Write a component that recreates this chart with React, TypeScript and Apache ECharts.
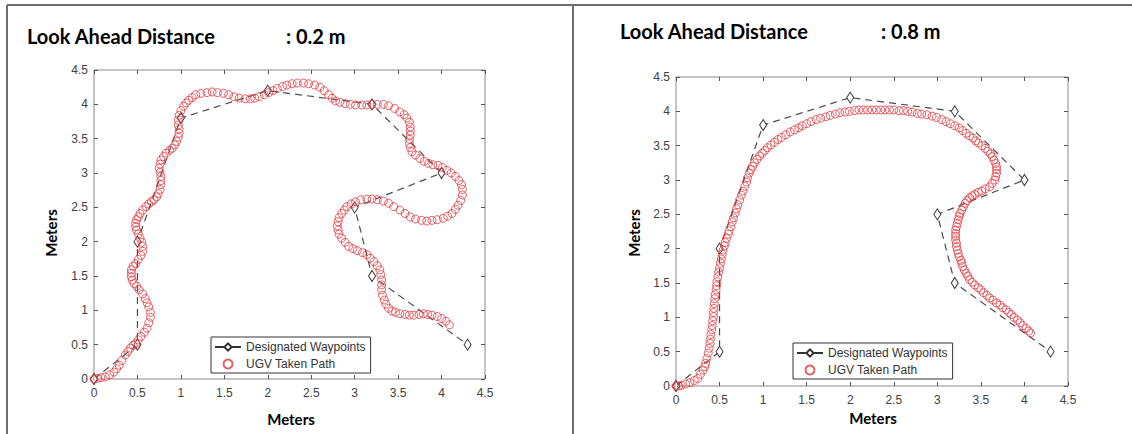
import React, { useEffect, useRef } from "react";
import * as echarts from "echarts";

const WAYPOINTS: [number, number][] = [
  [0, 0], [0.5, 0.5], [0.5, 2], [1, 3.8], [2, 4.2], [3.2, 4], [4, 3], [3, 2.5], [3.2, 1.5], [4.3, 0.5],
];

const PATH_02: [number, number][] = [
  [0,0],[0.04,0.01],[0.08,0.02],[0.13,0.03],[0.18,0.06],[0.23,0.1],[0.26,0.15],[0.29,0.2],[0.32,0.27],[0.36,0.35],
  [0.39,0.4],[0.42,0.45],[0.45,0.49],[0.48,0.52],[0.51,0.57],[0.54,0.62],[0.58,0.68],[0.61,0.74],[0.63,0.82],[0.65,0.9],
  [0.65,0.97],[0.63,1.05],[0.61,1.11],[0.59,1.17],[0.56,1.24],[0.52,1.3],[0.49,1.35],[0.46,1.39],[0.44,1.44],[0.43,1.49],
  [0.43,1.54],[0.43,1.59],[0.45,1.64],[0.48,1.68],[0.51,1.74],[0.54,1.8],[0.56,1.86],[0.56,1.93],[0.55,1.99],[0.53,2.05],
  [0.51,2.11],[0.49,2.17],[0.48,2.22],[0.48,2.27],[0.49,2.32],[0.51,2.36],[0.53,2.41],[0.56,2.46],[0.6,2.51],[0.63,2.55],
  [0.66,2.58],[0.69,2.61],[0.72,2.65],[0.74,2.7],[0.76,2.76],[0.77,2.83],[0.77,2.89],[0.77,2.95],[0.76,3.01],[0.75,3.07],
  [0.76,3.13],[0.77,3.19],[0.8,3.24],[0.83,3.29],[0.87,3.33],[0.9,3.36],[0.93,3.41],[0.95,3.46],[0.97,3.52],[0.98,3.58],
  [0.98,3.64],[0.97,3.7],[0.97,3.77],[0.98,3.84],[1.0,3.91],[1.03,3.97],[1.06,4.02],[1.09,4.06],[1.13,4.1],[1.17,4.14],
  [1.23,4.16],[1.3,4.17],[1.36,4.18],[1.42,4.17],[1.49,4.16],[1.55,4.14],[1.61,4.11],[1.67,4.09],[1.74,4.08],[1.8,4.08],
  [1.85,4.09],[1.9,4.11],[1.96,4.14],[2.01,4.17],[2.06,4.2],[2.11,4.23],[2.17,4.26],[2.22,4.28],[2.28,4.3],[2.34,4.31],
  [2.41,4.31],[2.47,4.3],[2.54,4.28],[2.6,4.25],[2.65,4.2],[2.7,4.14],[2.74,4.09],[2.78,4.05],[2.83,4.03],[2.89,4.01],
  [2.95,4.0],[3.01,3.99],[3.08,3.99],[3.14,3.99],[3.2,4.0],[3.26,4.0],[3.33,4.0],[3.39,3.98],[3.46,3.94],[3.52,3.89],
  [3.57,3.85],[3.6,3.8],[3.63,3.74],[3.64,3.67],[3.64,3.61],[3.64,3.55],[3.63,3.49],[3.63,3.43],[3.64,3.37],[3.66,3.31],
  [3.7,3.26],[3.75,3.21],[3.8,3.17],[3.85,3.14],[3.9,3.12],[3.96,3.11],[4.01,3.08],[4.06,3.04],[4.11,3.0],[4.16,2.95],
  [4.2,2.89],[4.23,2.83],[4.24,2.76],[4.24,2.68],[4.22,2.6],[4.19,2.53],[4.16,2.47],[4.12,2.41],[4.07,2.37],[4.02,2.34],
  [3.95,2.32],[3.89,2.31],[3.83,2.3],[3.77,2.31],[3.7,2.33],[3.64,2.36],[3.58,2.41],[3.52,2.46],[3.45,2.51],[3.39,2.56],
  [3.33,2.59],[3.26,2.61],[3.2,2.62],[3.14,2.62],[3.07,2.61],[3.01,2.58],[2.96,2.55],[2.91,2.51],[2.88,2.46],[2.85,2.41],
  [2.82,2.35],[2.81,2.29],[2.8,2.23],[2.81,2.17],[2.82,2.11],[2.85,2.05],[2.89,1.99],[2.93,1.93],[2.98,1.9],[3.03,1.87],
  [3.09,1.84],[3.14,1.81],[3.18,1.76],[3.22,1.71],[3.26,1.65],[3.29,1.59],[3.3,1.52],[3.31,1.44],[3.31,1.37],[3.31,1.3],
  [3.32,1.22],[3.34,1.15],[3.36,1.09],[3.39,1.03],[3.43,0.99],[3.47,0.97],[3.52,0.95],[3.58,0.94],[3.63,0.93],[3.68,0.93],
  [3.74,0.94],[3.79,0.95],[3.84,0.94],[3.89,0.93],[3.95,0.91],[4.0,0.88],[4.05,0.84],[4.09,0.79],
];

const PATH_08: [number, number][] = [
  [0,0],[0.03,0.0],[0.06,0.01],[0.11,0.03],[0.16,0.05],[0.21,0.08],[0.25,0.11],[0.28,0.17],[0.31,0.23],[0.33,0.28],
  [0.34,0.33],[0.355,0.4],[0.37,0.48],[0.38,0.55],[0.39,0.62],[0.395,0.68],[0.4,0.75],[0.41,0.82],[0.415,0.88],[0.42,0.95],
  [0.43,1.01],[0.43,1.07],[0.435,1.13],[0.44,1.2],[0.445,1.27],[0.45,1.33],[0.46,1.4],[0.465,1.46],[0.47,1.52],[0.48,1.59],
  [0.49,1.66],[0.5,1.72],[0.51,1.79],[0.52,1.85],[0.53,1.92],[0.54,1.98],[0.555,2.04],[0.565,2.09],[0.58,2.15],[0.6,2.21],
  [0.61,2.26],[0.63,2.32],[0.645,2.39],[0.66,2.45],[0.68,2.52],[0.695,2.58],[0.71,2.64],[0.73,2.71],[0.75,2.78],[0.77,2.84],
  [0.79,2.91],[0.81,2.97],[0.82,3.03],[0.84,3.1],[0.86,3.15],[0.88,3.2],[0.9,3.25],[0.93,3.3],[0.96,3.35],[0.99,3.39],
  [1.02,3.43],[1.05,3.47],[1.09,3.51],[1.13,3.55],[1.17,3.59],[1.21,3.62],[1.26,3.66],[1.31,3.7],[1.36,3.73],[1.41,3.76],
  [1.45,3.79],[1.5,3.82],[1.55,3.85],[1.61,3.88],[1.66,3.9],[1.72,3.92],[1.77,3.94],[1.83,3.96],[1.88,3.98],[1.94,3.99],
  [1.99,4.0],[2.05,4.01],[2.1,4.02],[2.15,4.02],[2.2,4.02],[2.25,4.02],[2.3,4.02],[2.35,4.02],[2.4,4.02],[2.45,4.02],
  [2.5,4.02],[2.56,4.01],[2.61,4.01],[2.66,4.0],[2.71,3.99],[2.77,3.97],[2.82,3.96],[2.88,3.95],[2.94,3.93],[2.99,3.91],
  [3.05,3.88],[3.1,3.85],[3.15,3.82],[3.2,3.79],[3.25,3.76],[3.29,3.72],[3.33,3.68],[3.37,3.64],[3.41,3.61],[3.44,3.57],
  [3.47,3.54],[3.51,3.5],[3.55,3.46],[3.58,3.42],[3.61,3.38],[3.63,3.34],[3.65,3.29],[3.67,3.24],[3.68,3.19],[3.68,3.15],
  [3.68,3.1],[3.67,3.05],[3.66,3.0],[3.63,2.95],[3.6,2.9],[3.55,2.87],[3.51,2.84],[3.47,2.82],[3.43,2.79],[3.4,2.77],
  [3.37,2.74],[3.34,2.7],[3.32,2.66],[3.3,2.61],[3.28,2.56],[3.26,2.51],[3.25,2.47],[3.24,2.42],[3.23,2.37],[3.22,2.32],
  [3.21,2.27],[3.21,2.22],[3.21,2.18],[3.21,2.13],[3.22,2.08],[3.22,2.03],[3.23,1.98],[3.24,1.93],[3.25,1.88],[3.27,1.83],
  [3.28,1.79],[3.29,1.74],[3.31,1.69],[3.33,1.64],[3.35,1.6],[3.37,1.55],[3.4,1.51],[3.43,1.47],[3.47,1.43],[3.5,1.4],
  [3.53,1.36],[3.57,1.32],[3.6,1.28],[3.64,1.25],[3.68,1.21],[3.72,1.18],[3.75,1.14],[3.79,1.11],[3.82,1.07],[3.85,1.04],
  [3.88,1.0],[3.92,0.96],[3.95,0.92],[3.98,0.88],[4.02,0.84],[4.05,0.8],[4.07,0.77],
];

const AXIS_MIN = 0;
const AXIS_MAX = 4.5;
const AXIS_STEP = 0.5;
const TITLE_LABEL = "Look Ahead Distance";
const DISTANCES = [": 0.2 m", ": 0.8 m"];
const AXIS_NAME = "Meters";
const SERIES_NAMES = ["Designated Waypoints", "UGV Taken Path"];

const PATH_RED = "#e2363c";
const AXIS_GRAY = "#8a8a8a";
const TICK_FONT = "Liberation Sans";
const TITLE_FONT = "Lato";

export default function App() {
  const ref = useRef<HTMLDivElement>(null);

  useEffect(() => {
    document.body.style.margin = "0";
    if (!ref.current) return;
    const chart = echarts.init(ref.current, undefined, { renderer: "svg" });

    const grids = [
      { left: 94, top: 70, width: 391, height: 309 },
      { left: 676, top: 77, width: 392, height: 309 },
    ];

    const baseAxis = {
      type: "value" as const,
      min: AXIS_MIN,
      max: AXIS_MAX,
      interval: AXIS_STEP,
      splitLine: { show: false },
      axisLine: { show: false, onZero: false },
      axisTick: { show: true, inside: true, length: 4, lineStyle: { color: "#555", width: 1 } },
    };

    const xAxis: any[] = [];
    const yAxis: any[] = [];
    grids.forEach((_, gi) => {
      xAxis.push({
        ...baseAxis,
        gridIndex: gi,
        position: "bottom",
        axisLabel: { show: true, color: "#404040", fontSize: 12, fontFamily: TICK_FONT, margin: 8 },
      });
      xAxis.push({ ...baseAxis, gridIndex: gi, position: "top", axisLabel: { show: false } });
      yAxis.push({
        ...baseAxis,
        gridIndex: gi,
        position: "left",
        axisLabel: { show: true, color: "#404040", fontSize: 12, fontFamily: TICK_FONT, margin: 6 },
      });
      yAxis.push({ ...baseAxis, gridIndex: gi, position: "right", axisLabel: { show: false } });
    });

    const paths = [PATH_02, PATH_08];
    const series: any[] = [];
    paths.forEach((p, gi) => {
      series.push({
        name: SERIES_NAMES[0],
        type: "line",
        xAxisIndex: gi * 2,
        yAxisIndex: gi * 2,
        data: WAYPOINTS,
        symbol: "diamond",
        symbolSize: [7, 11],
        showSymbol: true,
        lineStyle: { color: "#4a4a4a", width: 1.2, type: [7, 5] },
        itemStyle: { color: "#ffffff", borderColor: "#333", borderWidth: 1 },
        z: 2,
      });
      series.push({
        name: SERIES_NAMES[1],
        type: "scatter",
        xAxisIndex: gi * 2,
        yAxisIndex: gi * 2,
        data: p,
        symbol: "circle",
        symbolSize: 8,
        itemStyle: { color: "rgba(0,0,0,0)", borderColor: PATH_RED, borderWidth: 1 },
        z: 3,
      });
    });

    const legendBase = {
      orient: "vertical" as const,
      data: SERIES_NAMES,
      selectedMode: false,
      backgroundColor: "#fff",
      borderColor: "#333",
      borderWidth: 1,
      padding: [4, 5, 3, 3],
      itemGap: 5,
      itemWidth: 26,
      itemHeight: 9,
      lineStyle: { type: "solid", color: "#333" },
      textStyle: { fontSize: 12, color: "#333", fontFamily: TICK_FONT },
    };

    const titleTexts = (x1: number, x2: number, y: number, dist: string) => [
      {
        type: "text",
        x: x1,
        y,
        style: { text: TITLE_LABEL, font: `bold 20px ${TITLE_FONT}`, fill: "#000", verticalAlign: "middle", align: "left" },
      },
      {
        type: "text",
        x: x2,
        y,
        style: { text: dist, font: `bold 20px ${TITLE_FONT}`, fill: "#000", verticalAlign: "middle", align: "left" },
      },
    ];

    const axisNames = (cx: number, cy: number, yx: number, yy: number) => [
      {
        type: "text",
        x: cx,
        y: cy,
        style: { text: AXIS_NAME, font: `bold 15px ${TITLE_FONT}`, fill: "#000", align: "center", verticalAlign: "middle" },
      },
      {
        type: "text",
        x: yx,
        y: yy,
        rotation: Math.PI / 2,
        style: { text: AXIS_NAME, font: `bold 15px ${TITLE_FONT}`, fill: "#000", align: "center", verticalAlign: "middle" },
      },
    ];

    const option: any = {
      animation: false,
      backgroundColor: "#fff",
      grid: grids.map((g) => ({ ...g, show: true, borderColor: AXIS_GRAY, borderWidth: 1, backgroundColor: "#fff" })),
      xAxis,
      yAxis,
      legend: [
        { ...legendBase, left: 211, top: 337 },
        { ...legendBase, left: 793, top: 343 },
      ],
      graphic: [
        { type: "line", shape: { x1: 7, y1: 5, x2: 1132, y2: 5 }, style: { stroke: "#6e6e6e", lineWidth: 2 } },
        { type: "line", shape: { x1: 7, y1: 5, x2: 7, y2: 434 }, style: { stroke: "#6e6e6e", lineWidth: 2 } },
        { type: "line", shape: { x1: 573, y1: 5, x2: 573, y2: 434 }, style: { stroke: "#6e6e6e", lineWidth: 2 } },
        ...titleTexts(27, 286, 36, DISTANCES[0]),
        ...titleTexts(620, 881, 31, DISTANCES[1]),
        ...axisNames(291, 419, 51, 233),
        ...axisNames(873, 418, 634, 233),
      ],
      series,
    };

    chart.setOption(option);
    return () => chart.dispose();
  }, []);

  return <div ref={ref} style={{ width: 1132, height: 434 }} />;
}
